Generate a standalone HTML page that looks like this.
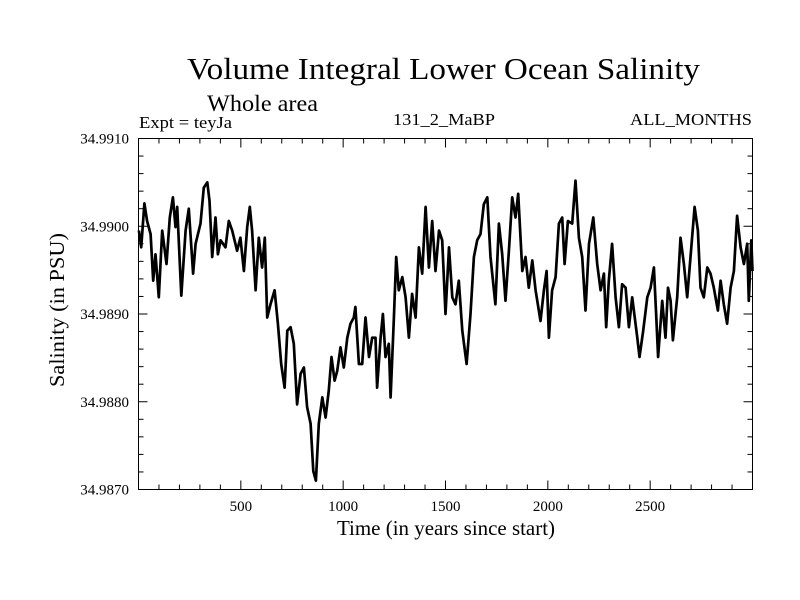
<!DOCTYPE html>
<html><head><meta charset="utf-8"><style>
html,body{margin:0;padding:0;background:#fff;}
svg{display:block;font-family:"Liberation Serif",serif;}
</style></head><body>
<svg id="chart" width="800" height="600" viewBox="0 0 800 600">
<rect width="800" height="600" fill="#fff"/>
<text x="187" y="79" font-size="31" textLength="513" lengthAdjust="spacingAndGlyphs">Volume Integral Lower Ocean Salinity</text>
<text x="207" y="111" font-size="23" textLength="111" lengthAdjust="spacingAndGlyphs">Whole area</text>
<text x="139" y="128" font-size="17" textLength="93" lengthAdjust="spacingAndGlyphs">Expt = teyJa</text>
<text x="393" y="125" font-size="17" textLength="102" lengthAdjust="spacingAndGlyphs">131_2_MaBP</text>
<text x="630" y="125" font-size="17" textLength="122" lengthAdjust="spacingAndGlyphs">ALL_MONTHS</text>
<g id="axes"></g>
<text x="337" y="535" font-size="21" textLength="218" lengthAdjust="spacingAndGlyphs">Time (in years since start)</text>
<text transform="translate(64,387) rotate(-90)" font-size="21" textLength="154" lengthAdjust="spacingAndGlyphs">Salinity (in PSU)</text>
</svg>
<script>
const years = [2,13,29,42,59,72,83,99,116,137,153,168,181,189,209,230,246,267,279,303,319,336,347,360,376,388,401,425,441,458,482,498,515,531,544,555,572,588,604,617,629,645,665,681,697,714,727,743,759,775,792,808,824,841,854,867,881,898,914,930,943,958,971,987,1003,1020,1036,1052,1060,1077,1093,1109,1126,1142,1158,1166,1183,1194,1207,1223,1232,1248,1259,1272,1289,1305,1321,1337,1354,1370,1386,1403,1419,1435,1451,1468,1484,1500,1517,1533,1549,1565,1582,1603,1622,1639,1655,1671,1687,1704,1720,1744,1761,1777,1793,1810,1826,1842,1855,1875,1891,1907,1924,1940,1964,1981,1994,2005,2021,2038,2054,2070,2082,2098,2119,2135,2152,2168,2184,2201,2222,2241,2258,2274,2285,2298,2314,2331,2347,2363,2380,2396,2412,2437,2448,2466,2486,2502,2518,2530,2539,2559,2575,2587,2600,2611,2632,2648,2665,2681,2701,2717,2733,2746,2762,2779,2795,2811,2831,2844,2860,2876,2893,2909,2925,2942,2958,2974,2982,2994,3000];
const salinity = [34.98995,34.98976,34.99026,34.99006,34.98991,34.98938,34.98968,34.98919,34.98995,34.98957,34.99010,34.99033,34.98999,34.99022,34.98921,34.98995,34.99020,34.98946,34.98980,34.99003,34.99044,34.99050,34.99029,34.98965,34.99010,34.98968,34.98984,34.98976,34.99006,34.98995,34.98972,34.98987,34.98949,34.98999,34.99022,34.98995,34.98927,34.98987,34.98953,34.98987,34.98896,34.98911,34.98927,34.98889,34.98843,34.98816,34.98881,34.98885,34.98866,34.98797,34.98832,34.98839,34.98794,34.98775,34.98721,34.98710,34.98775,34.98805,34.98782,34.98813,34.98851,34.98824,34.98835,34.98862,34.98839,34.98873,34.98889,34.98896,34.98908,34.98843,34.98843,34.98896,34.98851,34.98873,34.98873,34.98816,34.98873,34.98900,34.98851,34.98866,34.98805,34.98896,34.98965,34.98927,34.98942,34.98919,34.98873,34.98923,34.98896,34.98976,34.98946,34.99022,34.98953,34.99006,34.98949,34.98995,34.98984,34.98900,34.98976,34.98919,34.98911,34.98938,34.98881,34.98843,34.98900,34.98965,34.98984,34.98991,34.99025,34.99033,34.98965,34.98911,34.99003,34.98968,34.98915,34.98972,34.99033,34.99010,34.99037,34.98949,34.98965,34.98930,34.98961,34.98927,34.98892,34.98927,34.98949,34.98873,34.98927,34.98942,34.99003,34.99010,34.98957,34.99006,34.99003,34.99052,34.98987,34.98965,34.98904,34.98980,34.99010,34.98957,34.98927,34.98946,34.98885,34.98938,34.98980,34.98919,34.98885,34.98934,34.98930,34.98885,34.98919,34.98873,34.98851,34.98881,34.98919,34.98930,34.98953,34.98896,34.98851,34.98915,34.98873,34.98930,34.98915,34.98870,34.98919,34.98987,34.98957,34.98919,34.98976,34.99022,34.98995,34.98930,34.98919,34.98953,34.98946,34.98930,34.98904,34.98938,34.98911,34.98889,34.98930,34.98949,34.99012,34.98976,34.98957,34.98980,34.98915,34.98984,34.98949];
const xTickValues = [500,1000,1500,2000,2500];
const xTickLabels = ["500","1000","1500","2000","2500"];
const yTickValues = [34.987,34.988,34.989,34.990,34.991];
const yTickLabels = ["34.9870","34.9880","34.9890","34.9900","34.9910"];

const L=138.5,R=752.5,T=138.5,B=489.5;
const xMin=0,xMax=3000,yMin=34.987,yMax=34.991;
const xs=v=>L+(v-xMin)/(xMax-xMin)*(R-L);
const ys=v=>B-(v-yMin)/(yMax-yMin)*(B-T);
const NS="http://www.w3.org/2000/svg";
const g=document.getElementById('axes');
function mk(tag,attrs){const e=document.createElementNS(NS,tag);for(const k in attrs)e.setAttribute(k,attrs[k]);g.appendChild(e);return e;}

const line=mk('polyline',{points:years.map((y,i)=>xs(y).toFixed(1)+','+ys(salinity[i]).toFixed(1)).join(' '),fill:'none',stroke:'#000','stroke-width':'2.7','stroke-linejoin':'round'});



const fr=mk('rect',{x:L,y:T,width:R-L,height:B-T,fill:'none',stroke:'#000','stroke-width':'1'});



for(let v=100;v<3000;v+=100){
  const major=v%500===0, len=major?9:5, x=xs(v);
  const t1=mk('line',{x1:x,x2:x,y1:B,y2:B-len,stroke:'#000','stroke-width':'1'});
  
  
  const t2=mk('line',{x1:x,x2:x,y1:T,y2:T+len,stroke:'#000','stroke-width':'1'});
  
  
}
xTickValues.forEach((v,i)=>{
  const t=mk('text',{x:xs(v),y:511,'font-size':'15','text-anchor':'middle'});
  t.textContent=xTickLabels[i];
  
  
});
for(let k=1;k<20;k++){
  const v=yMin+k*0.0002, major=k%5===0, len=major?9:5, y=ys(v);
  const t1=mk('line',{x1:L,x2:L+len,y1:y,y2:y,stroke:'#000','stroke-width':'1'});
  
  
  const t2=mk('line',{x1:R,x2:R-len,y1:y,y2:y,stroke:'#000','stroke-width':'1'});
  
  
}
yTickValues.forEach((v,i)=>{
  const t=mk('text',{x:129,y:ys(v)+5,'font-size':'15','text-anchor':'end'});
  t.textContent=yTickLabels[i];
  
  
});
</script>
</body></html>
